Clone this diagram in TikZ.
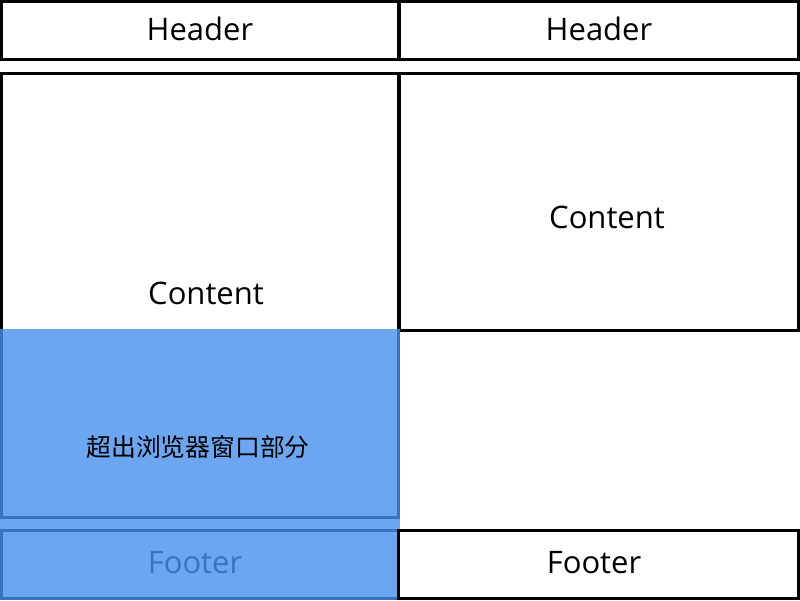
\documentclass[tikz,border=0pt]{standalone}
\usepackage{fontspec}
\setmainfont{Open Sans}
\newfontfamily\cjk{Noto Sans CJK SC}
\definecolor{overblue}{RGB}{72,144,238}
\begin{document}
\begin{tikzpicture}[x=1pt,y=-1pt,
  box/.style={draw=black, line width=3pt, fill=white, inner sep=0pt, rectangle},
  lbl/.style={inner sep=0pt, font=\fontsize{31}{37}\selectfont},
  cnlbl/.style={inner sep=0pt, font=\cjk\fontsize{24.8}{29}\selectfont}]
\useasboundingbox (0,0) rectangle (800,600);
\fill[white] (0,0) rectangle (800,600);
% headers
\node[box, minimum width=397pt, minimum height=58pt] (hl) at (200,30.5) {};
\node[box, minimum width=399pt, minimum height=58pt] (hr) at (599,30.5) {};
\node[lbl] (thl) at (200,29) {Header};
\node[lbl] (thr) at (599,29) {Header};
% contents
\node[box, minimum width=397pt, minimum height=444pt] (cl) at (200,295.5) {};
\node[box, minimum width=399pt, minimum height=257pt] (cr) at (599,202) {};
\node[lbl] (tcl) at (206,293) {Content};
\node[lbl] (tcr) at (607,217) {Content};
% left footer
\node[box, minimum width=397pt, minimum height=68pt] (fl) at (200,564.5) {};
\node[lbl] (tfl) at (195,563) {Footer};
% overflow overlay
\fill[overblue, fill opacity=0.8] (0,329) rectangle (400,600);
\node[cnlbl] (tcn) at (198,447) {超出浏览器窗口部分};
% right footer
\node[box, minimum width=400pt, minimum height=68pt] (fr) at (598.5,564.5) {};
\node[lbl] (tfr) at (594,563) {Footer};
\end{tikzpicture}
\end{document}
